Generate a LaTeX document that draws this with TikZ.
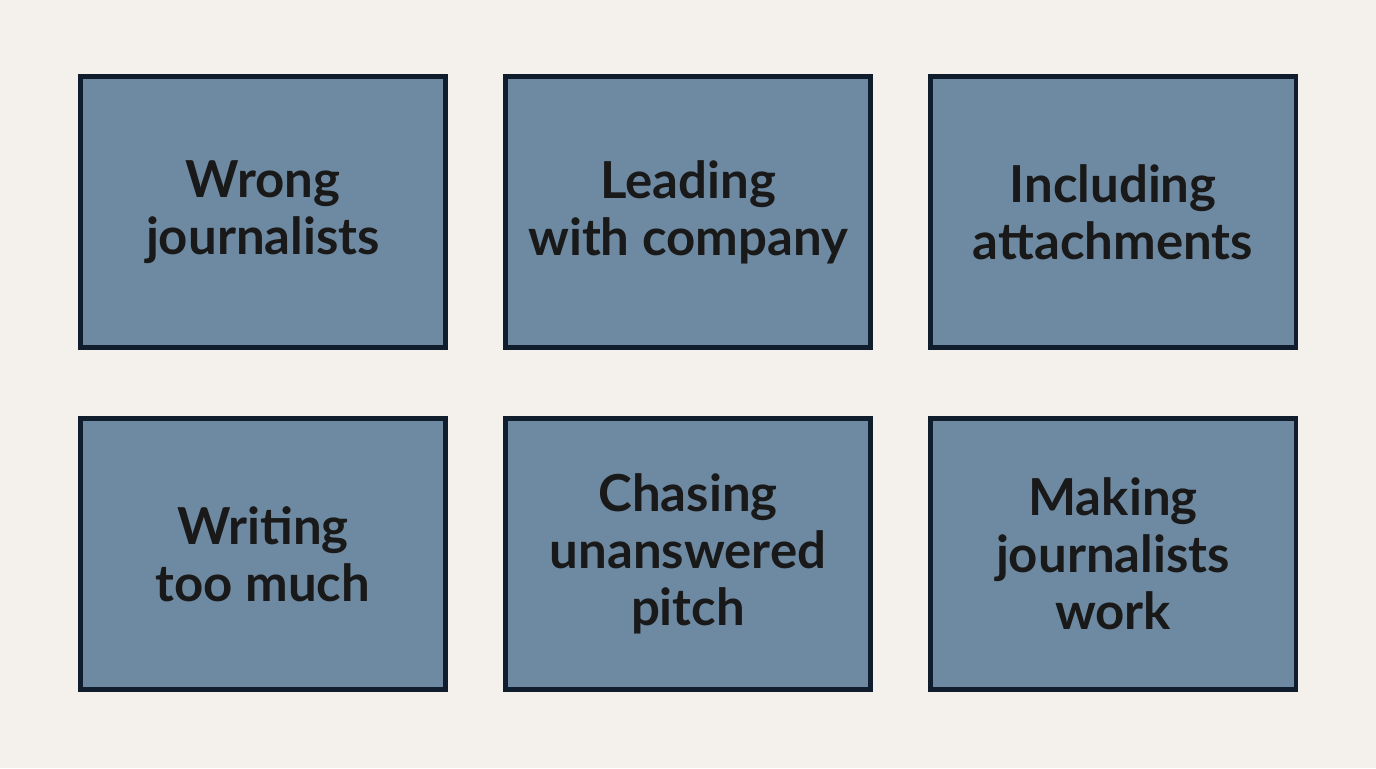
\documentclass[tikz,border=0pt]{standalone}
\usepackage{fontspec}
\setsansfont{Lato}
\definecolor{bgcream}{HTML}{F4F1EC}
\definecolor{boxblue}{HTML}{6E8AA2}
\definecolor{boxedge}{HTML}{0F1D2C}
\tikzset{
  mistake/.style={draw=boxedge, fill=boxblue, line width=2.3pt,
    minimum width=7.3cm, minimum height=5.42cm, align=center,
    font=\sffamily\bfseries\fontsize{29}{32.5}\selectfont, text=black!90}
}
\begin{document}
\begin{tikzpicture}
  % Background
  \fill[bgcream] (0,0) rectangle (27.52,15.36);

  % Top row
  \node[mistake] (wrong) at (5.26,11.12) {Wrong\\journalists};
  \node[mistake] (leading) at (13.76,11.12) {Leading\\with company};
  \node[mistake] (attach) at (22.26,11.12) {Including\\attachments};

  % Bottom row
  \node[mistake] (writing) at (5.26,4.28) {Writing\\too much};
  \node[mistake] (chasing) at (13.76,4.28) {Chasing\\unanswered\\pitch};
  \node[mistake] (making) at (22.26,4.28) {Making\\journalists\\work};
\end{tikzpicture}
\end{document}
